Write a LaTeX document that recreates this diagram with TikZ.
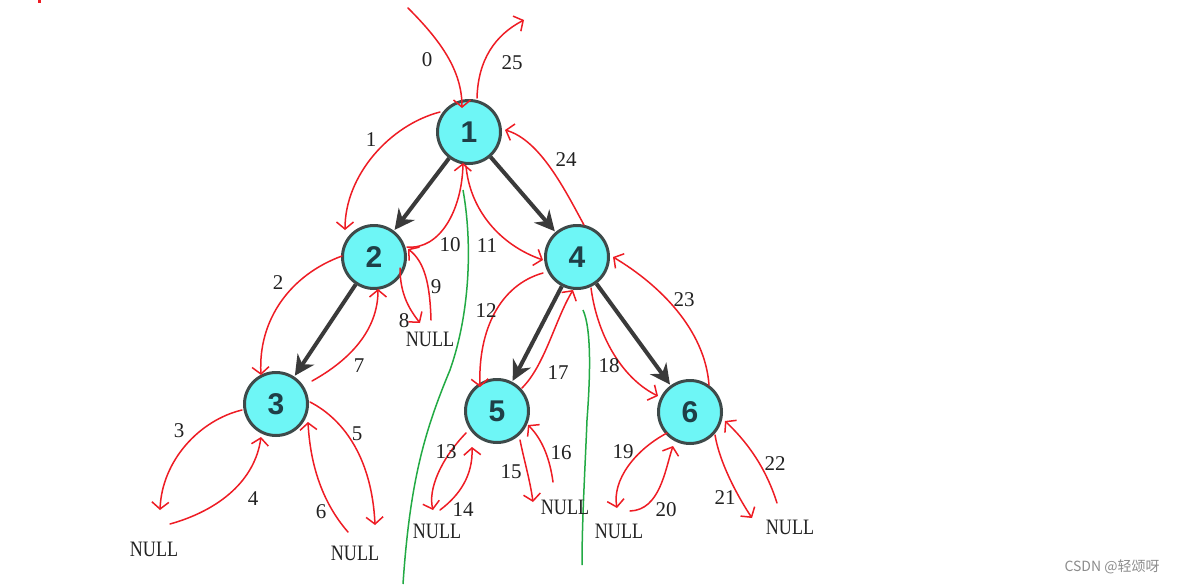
\documentclass[tikz,border=0pt]{standalone}
\usepackage{fontspec}
\setmainfont{Liberation Serif}
\newfontfamily\nodefont{Liberation Sans}
\newfontfamily\cjkfont{Noto Sans CJK SC}
\usetikzlibrary{arrows.meta}
\definecolor{nodefill}{HTML}{6EF6F6}
\definecolor{nodeline}{HTML}{3E4A4A}
\definecolor{nodetext}{HTML}{1F3F47}
\definecolor{edgecol}{HTML}{3A3A3A}
\definecolor{redline}{HTML}{EE1C24}
\definecolor{greenline}{HTML}{22AA44}
\definecolor{labtext}{HTML}{222222}
\tikzset{
  treenode/.style={circle, fill=nodefill, draw=nodeline, line width=3pt, minimum size=63pt, inner sep=0pt,
    text=nodetext, font=\nodefont\bfseries\fontsize{30}{30}\selectfont},
  treeedge/.style={draw=edgecol, line width=4pt, -{Stealth[length=20pt,width=20pt]}, shorten >=1pt},
  redarr/.style={draw=redline, line width=1.5pt, line cap=round, -{Straight Barb[length=7pt,width=17pt]}},
  greenpath/.style={draw=greenline, line width=1.5pt},
  numlab/.style={text=labtext, font=\fontsize{21}{21}\selectfont, inner sep=0pt},
  nulllab/.style={text=labtext, font=\fontsize{22}{22}\selectfont, inner sep=0pt, xscale=0.82, transform shape},
}
\begin{document}
\begin{tikzpicture}[x=1pt, y=-1pt]
\useasboundingbox (0,0) rectangle (1177,584);
\fill[white] (0,0) rectangle (1177,584);
\fill[redline] (38,0) rectangle (41,3);

% green lines
\draw[greenpath] (463,190) .. controls (472,240) and (471,310) .. (450,370) .. controls (425,430) and (410,480) .. (403,584);
\draw[greenpath] (583,310) .. controls (592,330) and (590,380) .. (587,420) .. controls (585,470) and (582,520) .. (582,565);

% tree nodes
\node[treenode] (n1) at (469,132) {1};
\node[treenode] (n2) at (374,257) {2};
\node[treenode] (n3) at (276,404) {3};
\node[treenode] (n4) at (577,257) {4};
\node[treenode] (n5) at (497,411) {5};
\node[treenode] (n6) at (690,412) {6};

\draw[treeedge] (n1) -- (n2);
\draw[treeedge] (n2) -- (n3);
\draw[treeedge] (n1) -- (n4);
\draw[treeedge] (n4) -- (n5);
\draw[treeedge] (n4) -- (n6);

% NULL labels
\node[nulllab] (null3a) at (154,549) {NULL};
\node[nulllab] (null3b) at (355,553) {NULL};
\node[nulllab] (null2) at (430,339) {NULL};
\node[nulllab] (null5a) at (437,531) {NULL};
\node[nulllab] (null5b) at (565,507) {NULL};
\node[nulllab] (null6a) at (619,531) {NULL};
\node[nulllab] (null6b) at (790,527) {NULL};

% red traversal arrows
\draw[redarr] (408,8) .. controls (440,40) and (462,70) .. (462,108);
\draw[redarr] (477,98) .. controls (478,60) and (495,35) .. (524,20);
\draw[redarr] (440,112) .. controls (390,125) and (345,175) .. (345,230);
\draw[redarr] (584,225) .. controls (565,190) and (540,140) .. (505,130);
\draw[redarr] (407,247) .. controls (440,250) and (462,210) .. (463,163);
\draw[redarr] (466,166) .. controls (470,210) and (500,245) .. (543,260);
\draw[redarr] (342,256) .. controls (290,275) and (258,320) .. (261,375);
\draw[redarr] (431,320) .. controls (430,285) and (425,262) .. (408,249);
\draw[redarr] (400,268) .. controls (400,295) and (410,310) .. (420,323);
\draw[redarr] (312,381) .. controls (350,360) and (378,330) .. (378,289);
\draw[redarr] (242,410) .. controls (200,420) and (162,460) .. (160,510);
\draw[redarr] (170,524) .. controls (220,510) and (255,480) .. (261,437);
\draw[redarr] (310,402) .. controls (345,420) and (372,460) .. (375,525);
\draw[redarr] (348,532) .. controls (320,500) and (310,460) .. (308,422);
\draw[redarr] (543,273) .. controls (500,285) and (478,330) .. (480,387);
\draw[redarr] (522,388) .. controls (545,365) and (555,320) .. (573,290);
\draw[redarr] (591,288) .. controls (598,340) and (625,380) .. (658,396);
\draw[redarr] (709,385) .. controls (705,330) and (660,285) .. (613,257);
\draw[redarr] (466,433) .. controls (440,460) and (428,490) .. (433,510);
\draw[redarr] (440,510) .. controls (460,495) and (473,475) .. (472,447);
\draw[redarr] (520,440) .. controls (524,460) and (530,480) .. (533,502);
\draw[redarr] (553,482) .. controls (550,460) and (543,440) .. (528,425);
\draw[redarr] (667,433) .. controls (635,450) and (612,480) .. (617,508);
\draw[redarr] (630,511) .. controls (660,510) and (665,470) .. (673,446);
\draw[redarr] (715,435) .. controls (720,465) and (740,500) .. (752,518);
\draw[redarr] (777,503) .. controls (765,465) and (745,440) .. (725,421);

% step numbers
\node[numlab] (l0) at (427,60) {0};
\node[numlab] (l25) at (512,63) {25};
\node[numlab] (l1) at (371,140) {1};
\node[numlab] (l24) at (566,160) {24};
\node[numlab] (l10) at (450,245) {10};
\node[numlab] (l11) at (487,246) {11};
\node[numlab] (l2) at (278,283) {2};
\node[numlab] (l9) at (436,287) {9};
\node[numlab] (l8) at (404,321) {8};
\node[numlab] (l7) at (359,366) {7};
\node[numlab] (l3) at (179,431) {3};
\node[numlab] (l4) at (253,499) {4};
\node[numlab] (l5) at (357,434) {5};
\node[numlab] (l6) at (321,512) {6};
\node[numlab] (l12) at (486,311) {12};
\node[numlab] (l17) at (558,373) {17};
\node[numlab] (l18) at (609,366) {18};
\node[numlab] (l23) at (684,300) {23};
\node[numlab] (l13) at (446,452) {13};
\node[numlab] (l14) at (463,510) {14};
\node[numlab] (l15) at (511,472) {15};
\node[numlab] (l16) at (561,453) {16};
\node[numlab] (l19) at (623,452) {19};
\node[numlab] (l20) at (666,510) {20};
\node[numlab] (l21) at (725,498) {21};
\node[numlab] (l22) at (775,464) {22};

% watermark
\node[text=black!45, font=\cjkfont\fontsize{14}{14}\selectfont, inner sep=0pt] (wm) at (1112,567) {CSDN @轻颂呀};
\end{tikzpicture}
\end{document}
